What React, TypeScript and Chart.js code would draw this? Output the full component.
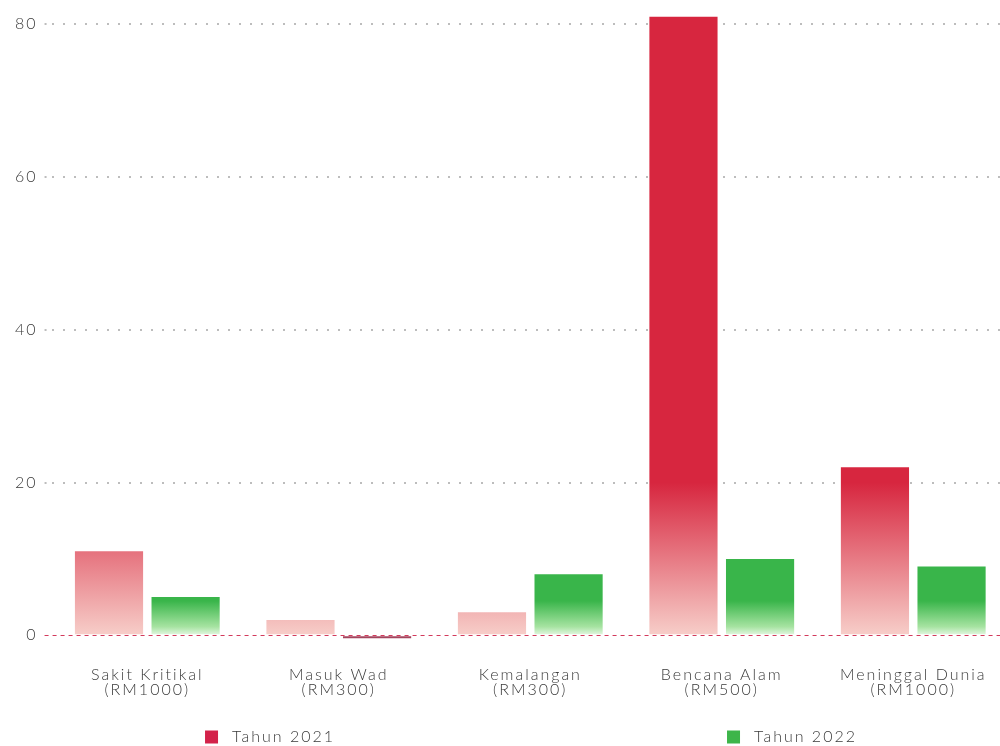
import React, { useEffect, useRef } from "react";
import { Chart, registerables } from "chart.js";

Chart.register(...registerables);

const categories: string[][] = [
  ["Sakit Kritikal", "(RM1000)"],
  ["Masuk Wad", "(RM300)"],
  ["Kemalangan", "(RM300)"],
  ["Bencana Alam", "(RM500)"],
  ["Meninggal Dunia", "(RM1000)"],
];
const seriesNames = ["Tahun 2021", "Tahun 2022"];
const values2021 = [11, 2, 3, 81, 22];
const values2022 = [5, -0.4, 8, 10, 9];
const yTicks = [0, 20, 40, 60, 80];

const RED_TOP = "#D7263F";
const RED_BOTTOM = "#F7CEC9";
const GREEN_TOP = "#39B54A";
const GREEN_MID = "#A6E3A1";
const GREEN_BOTTOM = "#E6F7E4";
const NEG_COLOR = "#A4455E";
const FONT = "Lato, 'Open Sans', sans-serif";
const LETTER_SPACING = "2px";
const TEXT_COLOR = "#3A3A3A";

const spacingPlugin = {
  id: "letterSpacing",
  beforeLayout(chart: any) {
    chart.ctx.letterSpacing = LETTER_SPACING;
  },
  beforeDraw(chart: any) {
    chart.ctx.letterSpacing = LETTER_SPACING;
  },
};

const zeroLinePlugin = {
  id: "zeroLine",
  afterDatasetsDraw(chart: any) {
    const { ctx, chartArea, scales } = chart;
    const y0 = Math.round(scales.y.getPixelForValue(0)) + 0.5;
    ctx.save();
    ctx.strokeStyle = "#D33A5C";
    ctx.lineWidth = 1.2;
    ctx.setLineDash([4, 4]);
    ctx.beginPath();
    ctx.moveTo(chartArea.left - 7, y0);
    ctx.lineTo(chartArea.right, y0);
    ctx.stroke();
    ctx.restore();
  },
};

const spreadLegendPlugin = {
  id: "spreadLegend",
  afterDraw(chart: any) {
    const { ctx, width, height } = chart;
    const boxLefts = [width * 0.2026, width * 0.7184];
    const yc = height - 9;
    ctx.save();
    ctx.font = `300 16px ${FONT}`;
    ctx.textBaseline = "middle";
    ctx.textAlign = "left";
    chart.data.datasets.forEach((ds: any, i: number) => {
      const x = boxLefts[i];
      ctx.fillStyle = ds.legendColor;
      ctx.fillRect(x, yc - 6.5, 13, 13);
      ctx.fillStyle = TEXT_COLOR;
      ctx.fillText(ds.label, x + 27, yc);
    });
    ctx.restore();
  },
};

function redFill(c: any) {
  const chart = c.chart;
  if (!chart.chartArea) return RED_TOP;
  const y = chart.scales.y;
  const g = chart.ctx.createLinearGradient(0, y.getPixelForValue(20), 0, y.getPixelForValue(0));
  g.addColorStop(0, RED_TOP);
  g.addColorStop(1, RED_BOTTOM);
  return g;
}

function greenFill(c: any) {
  const chart = c.chart;
  if (c.raw !== undefined && c.raw < 0) return NEG_COLOR;
  if (!chart.chartArea) return GREEN_TOP;
  const y = chart.scales.y;
  const g = chart.ctx.createLinearGradient(0, y.getPixelForValue(4.5), 0, y.getPixelForValue(0));
  g.addColorStop(0, GREEN_TOP);
  g.addColorStop(0.75, GREEN_MID);
  g.addColorStop(1, GREEN_BOTTOM);
  return g;
}

export default function App() {
  const ref = useRef<HTMLCanvasElement>(null);
  useEffect(() => {
    if (!ref.current) return;
    const chart = new Chart(ref.current, {
      type: "bar",
      data: {
        labels: categories,
        datasets: [
          {
            label: seriesNames[0],
            data: values2021,
            backgroundColor: redFill,
            legendColor: "#D3224A",
            categoryPercentage: 0.8,
            barPercentage: 0.89,
          } as any,
          {
            label: seriesNames[1],
            data: values2022,
            backgroundColor: greenFill,
            legendColor: "#3DB54A",
            categoryPercentage: 0.8,
            barPercentage: 0.89,
          } as any,
        ],
      },
      options: {
        responsive: false,
        animation: false,
        layout: { padding: { left: 8, right: 3, top: 11.7, bottom: 32.7 } },
        plugins: {
          legend: { display: false },
          tooltip: { enabled: false },
        },
        scales: {
          x: {
            grid: { display: false },
            border: { display: false },
            ticks: {
              color: TEXT_COLOR,
              font: { family: FONT, size: 16, weight: "300", lineHeight: 0.95 },
              padding: 16,
              maxRotation: 0,
              autoSkip: false,
            },
          },
          y: {
            min: -1,
            max: 81,
            afterBuildTicks: (scale: any) => {
              scale.ticks = yTicks.map((v) => ({ value: v }));
            },
            border: { display: false, dash: [2, 9] },
            grid: {
              color: (c: any) => (c.tick && c.tick.value === 0 ? "rgba(0,0,0,0)" : "#BDBDBD"),
              tickColor: (c: any) => (c.tick && c.tick.value === 0 ? "rgba(0,0,0,0)" : "#BDBDBD"),
              lineWidth: 2,
              tickWidth: 2,
              tickLength: 7,
              tickBorderDash: [2, 9],
            },
            ticks: {
              color: TEXT_COLOR,
              font: { family: FONT, size: 16, weight: "300" },
              padding: 7,
            },
          },
        },
      },
      plugins: [spacingPlugin, zeroLinePlugin, spreadLegendPlugin],
    });
    return () => chart.destroy();
  }, []);
  return (
    <div style={{ position: "fixed", left: 0, top: 0, width: 1012, height: 746, overflow: "hidden", background: "#fff" }}>
      <canvas ref={ref} width={1012} height={746} style={{ display: "block" }} />
    </div>
  );
}
